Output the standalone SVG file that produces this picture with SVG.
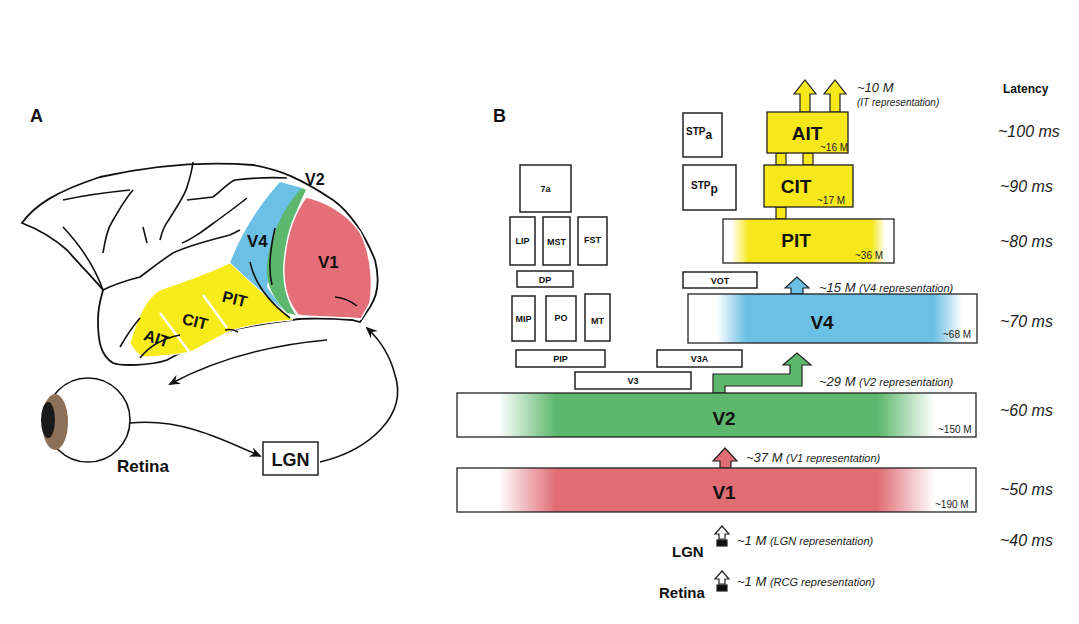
<svg xmlns="http://www.w3.org/2000/svg" width="1079" height="624" viewBox="0 0 1079 624">
<style>
.b{font-family:"Liberation Sans",Arial,sans-serif;font-weight:bold;fill:#111}
.i{font-family:"Liberation Sans",Arial,sans-serif;font-style:italic;fill:#222}
.s{font-family:"Liberation Sans",Arial,sans-serif;fill:#222;font-size:10px}
.box{fill:#fff;stroke:#222;stroke-width:1.5}
.ln{fill:none;stroke:#111;stroke-width:1.6}
</style>
<defs>
<marker id="ah" viewBox="0 0 12 10" refX="10" refY="5" markerWidth="12" markerHeight="10" orient="auto" markerUnits="userSpaceOnUse"><path d="M0,0 L12,5 L0,10 L4,5 Z" fill="#111"/></marker>
<linearGradient id="gY" x1="0" x2="1"><stop offset="0" stop-color="#fff"/><stop offset="0.05" stop-color="#fff"/><stop offset="0.15" stop-color="#f7e81c"/><stop offset="0.87" stop-color="#f7e81c"/><stop offset="0.95" stop-color="#fff"/></linearGradient>
<linearGradient id="gB" x1="0" x2="1"><stop offset="0" stop-color="#fff"/><stop offset="0.1" stop-color="#fff"/><stop offset="0.2" stop-color="#6cc0e6"/><stop offset="0.85" stop-color="#6cc0e6"/><stop offset="0.95" stop-color="#fff"/></linearGradient>
<linearGradient id="gG" x1="0" x2="1"><stop offset="0" stop-color="#fff"/><stop offset="0.08" stop-color="#fff"/><stop offset="0.19" stop-color="#5db76c"/><stop offset="0.81" stop-color="#5db76c"/><stop offset="0.92" stop-color="#fff"/></linearGradient>
<linearGradient id="gR" x1="0" x2="1"><stop offset="0" stop-color="#fff"/><stop offset="0.08" stop-color="#fff"/><stop offset="0.19" stop-color="#e06c74"/><stop offset="0.81" stop-color="#e06c74"/><stop offset="0.92" stop-color="#fff"/></linearGradient>
</defs>
<rect width="1079" height="624" fill="#fff"/>

<!-- Panel A -->
<text class="b" x="30" y="122" font-size="18">A</text>
<g id="brain">
<path d="M22,223 C35,205 55,192 100,177 C140,168 190,160 253,165 C280,170 300,178 333,200 C350,212 365,235 375,260 C380,280 378,295 370,307 L360,322 L352,320 C330,318 300,318 293,320 C270,322 240,328 233,330 C215,336 200,342 167,360 C150,366 120,366 113,363 C100,355 98,340 98,320 C98,305 102,295 103,290 C95,280 80,265 67,250 C50,235 35,228 22,223 Z" fill="#fff" stroke="#111" stroke-width="1.8"/>
<path d="M280,182 L302,188 L277,233 L267,287 L283,310 C260,290 240,275 230,263 C240,237 255,210 280,182 Z" fill="#6cc0e6"/>
<path d="M302,188 L306,190 C293,215 283,250 285,285 C287,300 292,310 296,315 L287,313 C272,298 265,280 267,265 C270,235 285,205 302,188 Z" fill="#5db76c"/>
<path d="M306,197 C320,200 345,210 360,232 C372,255 373,285 370,303 L361,319 L350,318 C330,317 305,317 298,315 C288,303 283,285 284,265 C286,235 295,212 306,197 Z" fill="#e56f78" stroke="#fff" stroke-width="1.5"/>
<path d="M230,263 C215,270 200,276 160,290 C148,298 140,310 130,343 C135,352 140,357 147,357 C165,356 180,354 190,352 C205,345 220,335 233,330 C250,325 270,322 293,320 C283,310 270,300 263,293 C250,282 240,272 230,263 Z" fill="#f7ec1a" stroke="#fff" stroke-width="1"/>
<path d="M160,313 L190,353 M203,295 L227,328" stroke="#fff" stroke-width="2.5"/>
<path class="ln" stroke-width="1.3" d="M250,262 C255,285 270,303 290,318 M275,228 C270,250 268,270 272,285 M335,297 C345,298 352,302 357,306 M140,358 C150,345 165,338 180,335 M225,330 C230,329 235,330 238,332"/>
<path class="ln" stroke-width="1.3" d="M63,200 C90,194 110,192 130,190 M63,227 C80,245 95,268 103,290 M103,253 C105,240 108,228 112,222 C120,208 126,198 133,190 M143,227 L147,243 M160,240 C162,232 164,226 168,221 C178,205 185,195 187,187 C190,178 192,170 193,162 M187,200 L213,197 C222,190 228,183 235,180 C252,178 270,177 287,178 M182,243 C190,240 195,236 200,233 C215,222 232,210 247,198 M103,290 C115,284 128,280 140,277 C152,268 162,260 173,253 C190,245 210,240 230,235 L240,230 M120,347 C128,333 134,325 140,318"/>
</g>
<g id="labelsA">
<text class="b" x="305" y="185" font-size="16">V2</text>
<text class="b" x="247" y="247" font-size="17">V4</text>
<text class="b" x="318" y="268" font-size="17">V1</text>
<text class="b" x="222" y="304" font-size="16" transform="rotate(14 232 300)">PIT</text>
<text class="b" x="182" y="327" font-size="16" transform="rotate(14 195 322)">CIT</text>
<text class="b" x="144" y="344" font-size="16" transform="rotate(18 157 338)">AIT</text>
</g>
<g id="eye">
<circle cx="88" cy="420" r="42" fill="#fff" stroke="#111" stroke-width="1.6"/>
<ellipse cx="55" cy="422" rx="13" ry="28" fill="#8c7058"/>
<ellipse cx="48" cy="420" rx="7" ry="18" fill="#1a1a1a"/>
<text class="b" x="117" y="472" font-size="17">Retina</text>
</g>
<g id="lgnA">
<rect x="263" y="442" width="55" height="33" class="box" stroke-width="1.8"/>
<text class="b" x="290.5" y="466" font-size="18" text-anchor="middle">LGN</text>
</g>
<g id="connectorsA">
<path class="ln" d="M130,423 C180,418 220,438 260,456" marker-end="url(#ah)"/>
<path class="ln" d="M320,462 C370,450 408,415 395,375 C390,355 380,340 367,328" marker-end="url(#ah)"/>
<path class="ln" d="M327,340 C270,345 215,360 170,384" marker-end="url(#ah)"/>
</g>

<!-- Panel B -->
<text class="b" x="493" y="122" font-size="18">B</text>
<text class="b" x="1003" y="93" font-size="12">Latency</text>
<g id="latency" class="i" font-size="16">
<text x="998" y="137">~100 ms</text>
<text x="1000" y="192">~90 ms</text>
<text x="1000" y="247">~80 ms</text>
<text x="1000" y="327">~70 ms</text>
<text x="1000" y="416">~60 ms</text>
<text x="1000" y="495">~50 ms</text>
<text x="1000" y="546">~40 ms</text>
</g>

<g id="connectorsB" stroke="#222" stroke-width="1.2">
<path d="M800,112 V94 H794 L805,80 L816,94 H810 V112 Z" fill="#f7e81c"/>
<path d="M830,112 V94 H824 L835,80 L846,94 H840 V112 Z" fill="#f7e81c"/>
<rect x="776" y="153" width="10" height="12" fill="#f7e81c"/>
<rect x="803" y="153" width="10" height="12" fill="#f7e81c"/>
<rect x="776" y="207" width="10" height="12" fill="#f7e81c"/>
<path d="M791,294 V288 H785 L797,277 L809,288 H803 V294 Z" fill="#6cc0e6"/>
<path d="M713,393 V374 H790 V365 H783 L797,353 L811,365 H802 V386 H725 V393 Z" fill="#5db76c"/>
<path d="M720,468 V461 H713 L725,448 L737,461 H731 V468 Z" fill="#e06c74"/>
<path d="M719,539 V534 H715 L722,526 L729,534 H725 V539 Z" fill="#fff"/>
<rect x="717" y="540" width="10" height="6" fill="#111"/>
<path d="M719,584 V579 H715 L722,571 L729,579 H725 V584 Z" fill="#fff"/>
<rect x="717" y="585" width="10" height="6" fill="#111"/>
</g>

<g id="AIT"><rect x="767" y="112" width="81" height="41" fill="#f7e81c" stroke="#222" stroke-width="1.3"/><text class="b" x="807" y="140" font-size="19" text-anchor="middle">AIT</text><text class="s" x="820" y="151">~16 M</text></g>
<g id="CIT"><rect x="764" y="165" width="89" height="42" fill="#f7e81c" stroke="#222" stroke-width="1.3"/><text class="b" x="796" y="193" font-size="19" text-anchor="middle">CIT</text><text class="s" x="817" y="204">~17 M</text></g>
<g id="PIT"><rect x="723" y="219" width="171" height="44" fill="url(#gY)" stroke="#222" stroke-width="1.3"/><text class="b" x="796" y="247" font-size="19" text-anchor="middle">PIT</text><text class="s" x="855" y="259">~36 M</text></g>
<g id="V4"><rect x="688" y="294" width="289" height="49" fill="url(#gB)" stroke="#222" stroke-width="1.3"/><text class="b" x="822" y="329" font-size="19" text-anchor="middle">V4</text><text class="s" x="943" y="338">~68 M</text></g>
<g id="V2"><rect x="457" y="393" width="519" height="44" fill="url(#gG)" stroke="#222" stroke-width="1.3"/><text class="b" x="724" y="425" font-size="19" text-anchor="middle">V2</text><text class="s" x="938" y="433">~150 M</text></g>
<g id="V1"><rect x="457" y="468" width="519" height="44" fill="url(#gR)" stroke="#222" stroke-width="1.3"/><text class="b" x="724" y="499" font-size="19" text-anchor="middle">V1</text><text class="s" x="935" y="508">~190 M</text></g>

<g id="STPa"><rect x="683" y="113" width="39" height="44" class="box" stroke-width="1.2"/><text class="b" x="686" y="135" font-size="10">STP<tspan font-size="12" dy="4">a</tspan></text></g>
<g id="STPp"><rect x="683" y="165" width="53" height="45" class="box" stroke-width="1.2"/><text class="b" x="691" y="189" font-size="10">STP<tspan font-size="12" dy="4">p</tspan></text></g>
<g id="n7a"><rect x="520" y="165" width="51" height="47" class="box" stroke-width="1.2"/><text class="b" x="545.5" y="192" font-size="9" text-anchor="middle">7a</text></g>
<g id="LIP"><rect x="510" y="217" width="25" height="48" class="box" stroke-width="1.2"/><text class="b" x="522.5" y="244" font-size="9" text-anchor="middle">LIP</text></g>
<g id="MST"><rect x="543" y="217" width="27" height="48" class="box" stroke-width="1.2"/><text class="b" x="556.5" y="245" font-size="9" text-anchor="middle">MST</text></g>
<g id="FST"><rect x="578" y="217" width="29" height="48" class="box" stroke-width="1.2"/><text class="b" x="592.5" y="243" font-size="9" text-anchor="middle">FST</text></g>
<g id="DP"><rect x="517" y="271" width="56" height="16" class="box" stroke-width="1.2"/><text class="b" x="545" y="283" font-size="9" text-anchor="middle">DP</text></g>
<g id="MIP"><rect x="512" y="296" width="23" height="45" class="box" stroke-width="1.2"/><text class="b" x="523.5" y="322" font-size="9" text-anchor="middle">MIP</text></g>
<g id="PO"><rect x="546" y="296" width="30" height="45" class="box" stroke-width="1.2"/><text class="b" x="561" y="321" font-size="9" text-anchor="middle">PO</text></g>
<g id="MT"><rect x="585" y="294" width="25" height="47" class="box" stroke-width="1.2"/><text class="b" x="597.5" y="324" font-size="9" text-anchor="middle">MT</text></g>
<g id="VOT"><rect x="683" y="272" width="74" height="16" class="box" stroke-width="1.2"/><text class="b" x="720" y="284" font-size="9" text-anchor="middle">VOT</text></g>
<g id="PIP"><rect x="516" y="350" width="89" height="17" class="box" stroke-width="1.2"/><text class="b" x="560.5" y="362" font-size="9" text-anchor="middle">PIP</text></g>
<g id="V3A"><rect x="657" y="350" width="85" height="17" class="box" stroke-width="1.2"/><text class="b" x="699.5" y="362" font-size="9" text-anchor="middle">V3A</text></g>
<g id="V3"><rect x="575" y="372" width="116" height="17" class="box" stroke-width="1.2"/><text class="b" x="633" y="384" font-size="9" text-anchor="middle">V3</text></g>

<g id="LGN"><text class="b" x="672" y="557" font-size="15">LGN</text></g>
<g id="Retina"><text class="b" x="659" y="598" font-size="15">Retina</text></g>

<g id="annotations" class="i">
<text x="857" y="92" font-size="13">~10 M</text>
<text x="857" y="106" font-size="10">(IT representation)</text>
<text x="819" y="292" font-size="13">~15 M <tspan font-size="11">(V4 representation)</tspan></text>
<text x="819" y="386" font-size="13">~29 M <tspan font-size="11">(V2 representation)</tspan></text>
<text x="746" y="462" font-size="13">~37 M <tspan font-size="11"> (V1 representation)</tspan></text>
<text x="737" y="545" font-size="13">~1 M <tspan font-size="11"> (LGN representation)</tspan></text>
<text x="737" y="586" font-size="13">~1 M <tspan font-size="11"> (RCG representation)</tspan></text>
</g>
</svg>
